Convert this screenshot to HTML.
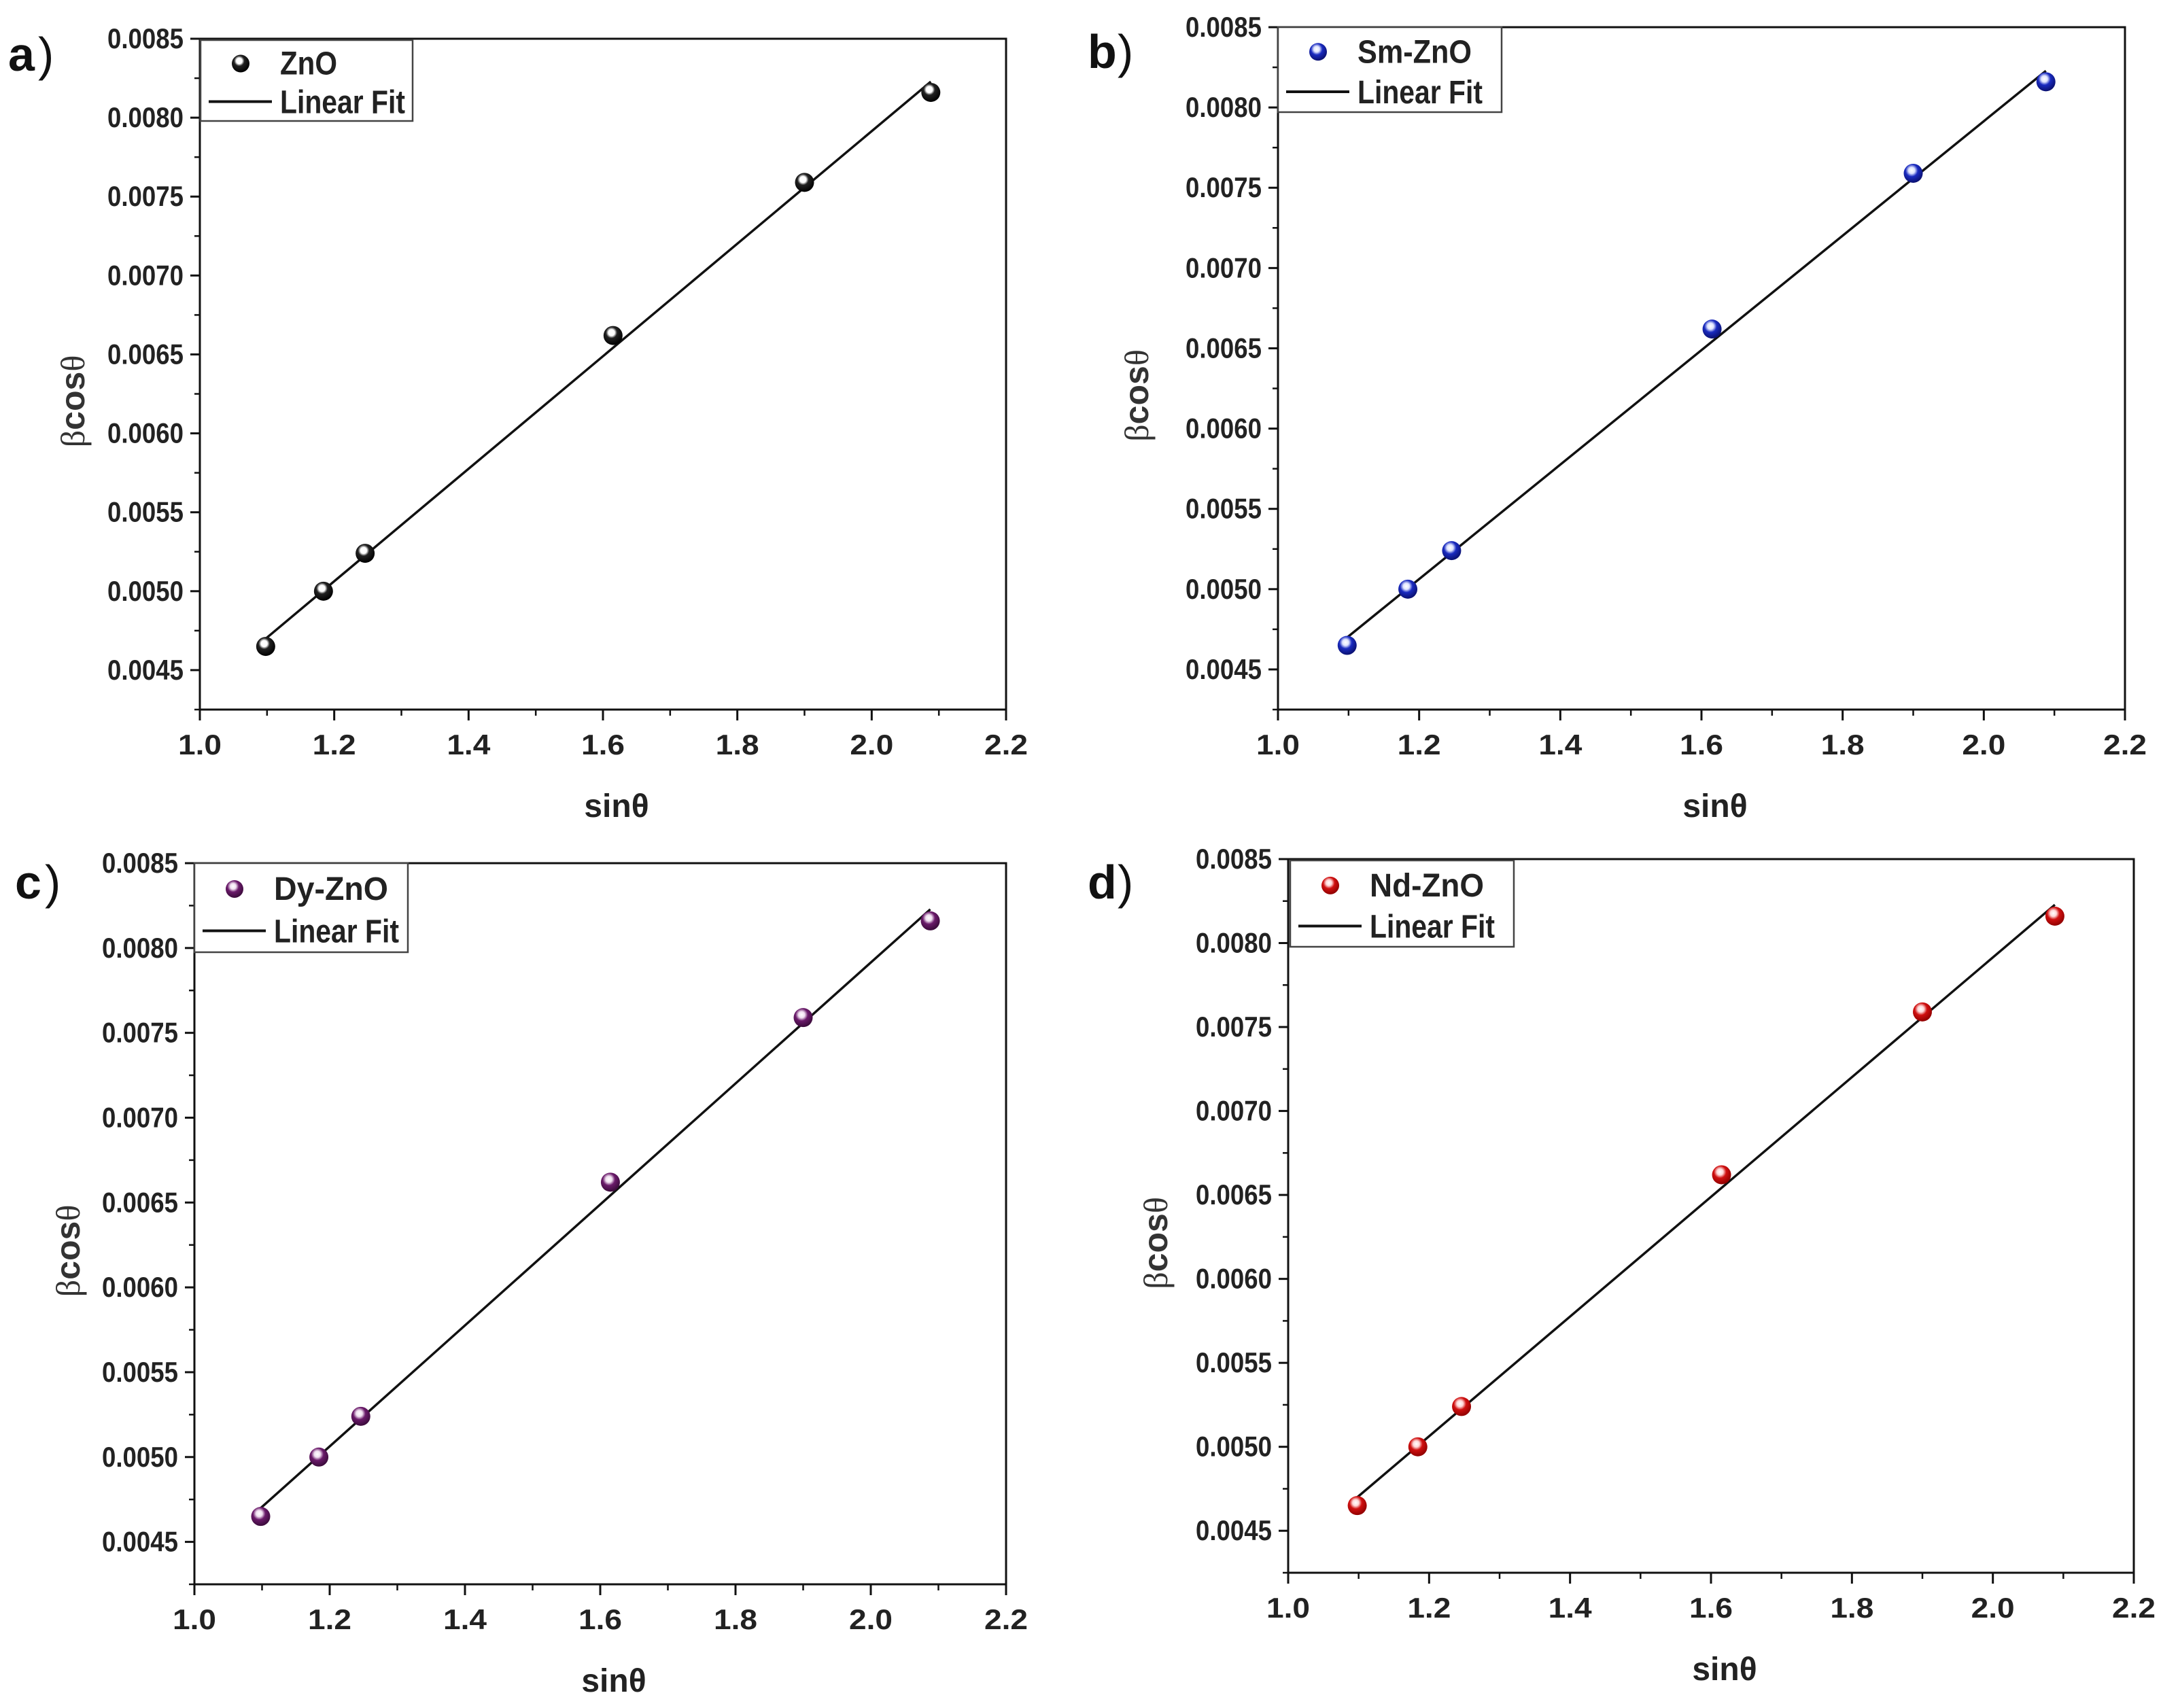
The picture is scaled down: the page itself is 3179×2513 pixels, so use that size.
<!DOCTYPE html>
<html><head><meta charset="utf-8"><style>
html,body{margin:0;padding:0;background:#fff;}
svg{display:block;}
text{font-family:"Liberation Sans",sans-serif;}
</style></head>
<body>
<svg id="fig" width="3179" height="2513" viewBox="0 0 3179 2513" xmlns="http://www.w3.org/2000/svg">
<defs>
<radialGradient id="g-a" cx="0.42" cy="0.35" r="0.65"><stop offset="0" stop-color="#fff"/><stop offset="0.25" stop-color="#fff"/><stop offset="0.45" stop-color="#222"/><stop offset="1" stop-color="#000"/></radialGradient>
<radialGradient id="g-b" cx="0.42" cy="0.35" r="0.65"><stop offset="0" stop-color="#fff"/><stop offset="0.25" stop-color="#dfe4ff"/><stop offset="0.5" stop-color="#1a2bc0"/><stop offset="1" stop-color="#0a1070"/></radialGradient>
<radialGradient id="g-c" cx="0.42" cy="0.35" r="0.65"><stop offset="0" stop-color="#fff"/><stop offset="0.25" stop-color="#f0dff0"/><stop offset="0.5" stop-color="#6a1a6a"/><stop offset="1" stop-color="#3a0a3a"/></radialGradient>
<radialGradient id="g-d" cx="0.42" cy="0.35" r="0.65"><stop offset="0" stop-color="#fff"/><stop offset="0.25" stop-color="#ffd8d8"/><stop offset="0.5" stop-color="#d01010"/><stop offset="1" stop-color="#900000"/></radialGradient>
</defs>
</svg>
<script>
// ---- data ----
const sinTheta = [1.098, 1.184, 1.246, 1.615, 1.900, 2.088];
const betaCosZnO = [0.00465, 0.00500, 0.00524, 0.00662, 0.00759, 0.00816];
const betaCosSm = [0.00465, 0.00500, 0.00524, 0.00662, 0.00759, 0.00816];
const betaCosDy = [0.00465, 0.00500, 0.00524, 0.00662, 0.00759, 0.00816];
const betaCosNd = [0.00465, 0.00500, 0.00524, 0.00662, 0.00759, 0.00816];
const seriesNames = ["ZnO", "Sm-ZnO", "Dy-ZnO", "Nd-ZnO"];
const xTicks = [1.0, 1.2, 1.4, 1.6, 1.8, 2.0, 2.2];
const xTickLabels = ["1.0", "1.2", "1.4", "1.6", "1.8", "2.0", "2.2"];
const yTicks = [0.0045, 0.0050, 0.0055, 0.0060, 0.0065, 0.0070, 0.0075, 0.0080, 0.0085];
const yTickLabels = ["0.0045", "0.0050", "0.0055", "0.0060", "0.0065", "0.0070", "0.0075", "0.0080", "0.0085"];

const NS = "http://www.w3.org/2000/svg";
const svg = document.getElementById("fig");
function mk(tag, attrs, parent) {
  const e = document.createElementNS(NS, tag);
  for (const k in attrs) e.setAttribute(k, attrs[k]);
  (parent || svg).appendChild(e);
  return e;
}

const panels = [
  {id:"a", ys:betaCosZnO, grad:"g-a", L:294, R:1480, T:57, B:1044, lg:[295,59,607,178], lab:[12,80], ylx:107},
  {id:"b", ys:betaCosSm, grad:"g-b", L:1880, R:3126, T:40, B:1044, lg:[1880,40,2209,165], lab:[1600,76], ylx:1672},
  {id:"c", ys:betaCosDy, grad:"g-c", L:286, R:1480, T:1270, B:2331, lg:[286,1270,600,1401], lab:[22,1298], ylx:100},
  {id:"d", ys:betaCosNd, grad:"g-d", L:1895, R:3139, T:1264, B:2314, lg:[1898,1266,2227,1393], lab:[1600,1298], ylx:1700}
];

panels.forEach((p, pi) => {
  const g = mk("g", {});
  
  
  const xMin = 1.0, xMax = 2.2, yMin = 0.00425, yMax = 0.0085;
  const sx = v => p.L + (v - xMin) / (xMax - xMin) * (p.R - p.L);
  const sy = v => p.B - (v - yMin) / (yMax - yMin) * (p.B - p.T);

  const fr = mk("rect", {x:p.L, y:p.T, width:p.R-p.L, height:p.B-p.T, fill:"none", stroke:"#111", "stroke-width":3}, g);
  
  

  const xg = mk("g", {}, g);
  
  
  for (let i = 0; i < xTicks.length; i++) {
    const x = sx(xTicks[i]);
    mk("line", {x1:x, y1:p.B, x2:x, y2:p.B+16, stroke:"#111", "stroke-width":3}, xg);
    if (i < xTicks.length - 1) {
      const xm = sx(xTicks[i] + 0.1);
      mk("line", {x1:xm, y1:p.B, x2:xm, y2:p.B+9, stroke:"#111", "stroke-width":2.5}, xg);
    }
    const t = mk("text", {x:x, y:p.B+66, "text-anchor":"middle", "font-size":42, "font-weight":"bold", fill:"#222", textLength:64, lengthAdjust:"spacingAndGlyphs"}, xg);
    t.textContent = xTickLabels[i];
    
    
  }
  const xt = mk("text", {x:(p.L+p.R)/2 + 20, y:p.B+158, "text-anchor":"middle", "font-size":48, "font-weight":"bold", fill:"#222"}, g);
  xt.textContent = "sinθ";
  
  

  const yg = mk("g", {}, g);
  
  
  for (let i = 0; i < yTicks.length; i++) {
    const y = sy(yTicks[i]);
    mk("line", {x1:p.L-14, y1:y, x2:p.L, y2:y, stroke:"#111", "stroke-width":3}, yg);
    const ym = sy(yTicks[i] - 0.00025);
    mk("line", {x1:p.L-8, y1:ym, x2:p.L, y2:ym, stroke:"#111", "stroke-width":2.5}, yg);
    const t = mk("text", {x:p.L-24, y:y+14, "text-anchor":"end", "font-size":42, "font-weight":"bold", fill:"#222", textLength:112, lengthAdjust:"spacingAndGlyphs"}, yg);
    t.textContent = yTickLabels[i];
    
    
  }
  const cy = (p.T + p.B) / 2 + 40;
  const yt = mk("text", {x:p.ylx, y:cy, transform:`rotate(-90 ${p.ylx} ${cy})`, "text-anchor":"middle", "dominant-baseline":"central", "font-size":50, fill:"#333"}, g);
  
  
  const s1 = mk("tspan", {"font-family":"Liberation Serif, serif"}, yt); s1.textContent = "β";
  const s2 = mk("tspan", {"font-weight":"bold"}, yt); s2.textContent = "cos";
  const s3 = mk("tspan", {"font-family":"Liberation Serif, serif"}, yt); s3.textContent = "θ";

  const n = sinTheta.length;
  let mx = 0, my = 0;
  for (let i = 0; i < n; i++) { mx += sinTheta[i]; my += p.ys[i]; }
  mx /= n; my /= n;
  let sxy = 0, sxx = 0;
  for (let i = 0; i < n; i++) { sxy += (sinTheta[i]-mx)*(p.ys[i]-my); sxx += (sinTheta[i]-mx)**2; }
  const slope = sxy / sxx, icpt = my - slope * mx;
  const x0 = sinTheta[0], x1 = sinTheta[n-1];
  const fl = mk("line", {x1:sx(x0), y1:sy(icpt+slope*x0), x2:sx(x1), y2:sy(icpt+slope*x1), stroke:"#111", "stroke-width":3.5}, g);
  
  

  for (let i = 0; i < n; i++) {
    const c = mk("circle", {cx:sx(sinTheta[i]), cy:sy(p.ys[i]), r:14, fill:`url(#${p.grad})`}, g);
    
    
  }

  const [lx0, ly0, lx1, ly1] = p.lg;
  const lg = mk("g", {}, g);
  
  
  mk("rect", {x:lx0, y:ly0, width:lx1-lx0, height:ly1-ly0, fill:"#fff", stroke:"#444", "stroke-width":2.5}, lg);
  const h = ly1 - ly0;
  const r1 = ly0 + h * 0.29, r2 = ly0 + h * 0.76;
  const lm = mk("circle", {cx:lx0+59, cy:r1, r:13, fill:`url(#${p.grad})`}, lg);
  
  
  const t1 = mk("text", {x:lx0+117, y:r1+16, "font-size":48, "font-weight":"bold", fill:"#222", textLength:seriesNames[pi].length*28, lengthAdjust:"spacingAndGlyphs"}, lg);
  t1.textContent = seriesNames[pi];
  
  
  mk("line", {x1:lx0+12, y1:r2, x2:lx0+105, y2:r2, stroke:"#111", "stroke-width":4}, lg);
  const t2 = mk("text", {x:lx0+117, y:r2+17, "font-size":48, "font-weight":"bold", fill:"#222", textLength:184, lengthAdjust:"spacingAndGlyphs"}, lg);
  t2.textContent = "Linear Fit";
  
  

  const pl = mk("text", {x:p.lab[0], y:p.lab[1]+24, "font-size":70, "font-weight":"bold", fill:"#111"}, g);
  pl.textContent = p.id;
  
  
  const pp = mk("text", {x:p.lab[0]+44, y:p.lab[1]+24, "font-size":70, fill:"#111"}, g);
  pp.textContent = ")";
  
  
});
</script>
</body></html>
